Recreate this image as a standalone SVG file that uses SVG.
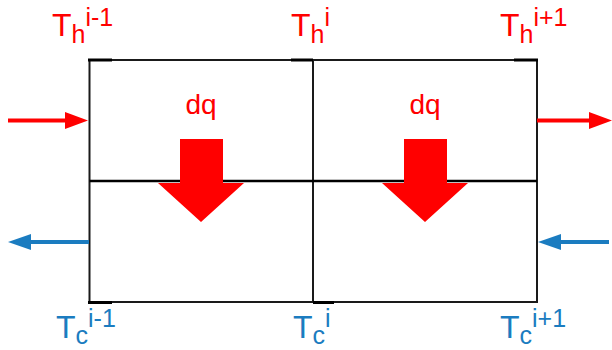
<svg xmlns="http://www.w3.org/2000/svg" width="612" height="350" viewBox="0 0 612 350">
<style>
.frame{fill:none;stroke:#1a1a1a;stroke-width:2}
.thick{stroke:#000;stroke-width:3}
.hot{fill:#ff0000;font-family:"Liberation Sans",Arial,sans-serif}
.cold{fill:#1b7cc0;font-family:"Liberation Sans",Arial,sans-serif}
.big{font-size:32px}
.small{font-size:25px}
.heat{fill:#ff0000}
</style>
<rect width="612" height="350" fill="#fff"/>
<g id="cells">
<rect class="frame" x="89.5" y="60" width="447.5" height="242"/>
<line class="frame" x1="313" y1="60" x2="313" y2="302"/>
<line class="frame" x1="89.5" y1="181" x2="537" y2="181" style="stroke:#000;stroke-width:2.5"/>
<line class="thick" x1="88" y1="60" x2="112" y2="60"/>
<line class="thick" x1="291" y1="60" x2="313" y2="60"/>
<line class="thick" x1="514" y1="60" x2="538" y2="60"/>
<line class="thick" x1="88" y1="302.5" x2="112" y2="302.5"/>
<line class="thick" x1="313" y1="302.5" x2="334" y2="302.5"/>
</g>
<g id="heat-left">
<polygon class="heat" points="180,139 223,139 223,183 244,183 201,222 158,183 180,183"/>
<text class="hot" x="201" y="114" font-size="28" text-anchor="middle">dq</text>
</g>
<g id="heat-right">
<polygon class="heat" points="404,139 447,139 447,183 468,183 425,222 382,183 404,183"/>
<text class="hot" x="425" y="114" font-size="28" text-anchor="middle">dq</text>
</g>
<g id="connectors">
<line x1="8" y1="120.5" x2="66" y2="120.5" stroke="#ff0000" stroke-width="4"/>
<polygon points="65,112 88,120.5 65,129" fill="#ff0000"/>
<line x1="537" y1="120.5" x2="590" y2="120.5" stroke="#ff0000" stroke-width="4"/>
<polygon points="589,112 612,120.5 589,129" fill="#ff0000"/>
<line x1="31" y1="242" x2="89" y2="242" stroke="#1b7cc0" stroke-width="4"/>
<polygon points="31,234 8,242 31,250" fill="#1b7cc0"/>
<line x1="561" y1="242" x2="609" y2="242" stroke="#1b7cc0" stroke-width="4"/>
<polygon points="561,234 538,242 561,250" fill="#1b7cc0"/>
</g>
<g id="label-th-im1"><text class="hot" x="52" y="36"><tspan class="big">T</tspan><tspan class="small" dy="7">h</tspan><tspan class="small" dy="-17">i-1</tspan></text></g>
<g id="label-th-i"><text class="hot" x="291" y="36"><tspan class="big">T</tspan><tspan class="small" dy="7">h</tspan><tspan class="small" dy="-17">i</tspan></text></g>
<g id="label-th-ip1"><text class="hot" x="500" y="36"><tspan class="big">T</tspan><tspan class="small" dy="7">h</tspan><tspan class="small" dy="-17">i+1</tspan></text></g>
<g id="label-tc-im1"><text class="cold" x="56" y="338"><tspan class="big">T</tspan><tspan class="small" dy="6">c</tspan><tspan class="small" dy="-17">i-1</tspan></text></g>
<g id="label-tc-i"><text class="cold" x="293" y="338"><tspan class="big">T</tspan><tspan class="small" dy="6">c</tspan><tspan class="small" dy="-17">i</tspan></text></g>
<g id="label-tc-ip1"><text class="cold" x="500" y="338"><tspan class="big">T</tspan><tspan class="small" dy="6">c</tspan><tspan class="small" dy="-17">i+1</tspan></text></g>
</svg>
